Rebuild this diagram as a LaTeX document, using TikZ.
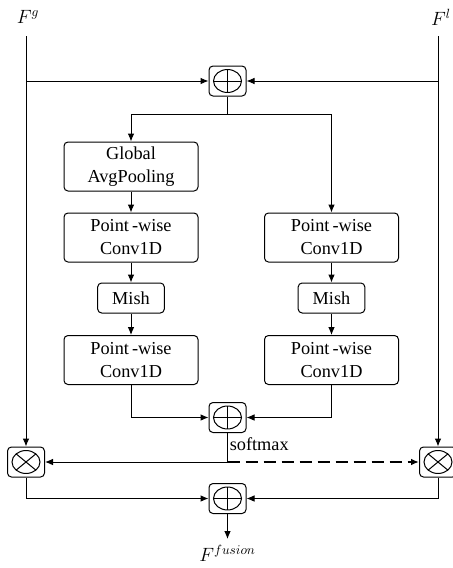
\documentclass[tikz,border=0pt]{standalone}
\usepackage{fontspec}
\setmainfont{Liberation Serif}
\usetikzlibrary{arrows.meta}
\begin{document}
\begin{tikzpicture}[x=0.75pt,y=-0.75pt,
  line width=0.75pt,
  font=\fontsize{13.7}{17.2}\selectfont,
  arr/.style={-{Latex[length=6pt,width=5pt]}},
  blk/.style={draw,rounded corners=3pt,minimum width=100.5pt,minimum height=36.75pt,align=center,inner sep=1pt},
  mishbox/.style={draw,rounded corners=3pt,minimum width=50pt,minimum height=22.5pt,inner sep=1pt},
  opbase/.style={draw,rounded corners=3pt,minimum width=27.75pt,minimum height=22.5pt,inner sep=0pt},
  opplus/.style={opbase,path picture={
    \draw (path picture bounding box.center) ellipse [x radius=10.5pt,y radius=8.6pt];
    \draw ([xshift=-10.5pt]path picture bounding box.center) -- ([xshift=10.5pt]path picture bounding box.center);
    \draw ([yshift=-8.6pt]path picture bounding box.center) -- ([yshift=8.6pt]path picture bounding box.center);}},
  optimes/.style={opbase,path picture={
    \draw (path picture bounding box.center) ellipse [x radius=10.5pt,y radius=8.6pt];
    \draw ([shift={(-7.4pt,-6.1pt)}]path picture bounding box.center) -- ([shift={(7.4pt,6.1pt)}]path picture bounding box.center);
    \draw ([shift={(-7.4pt,6.1pt)}]path picture bounding box.center) -- ([shift={(7.4pt,-6.1pt)}]path picture bounding box.center);}}
]
\useasboundingbox (0,0) rectangle (453,568);
% input labels
\node (fg) at (28,17) {$F^{g}$};
\node (fl) at (441,17) {$F^{l}$};
\coordinate (gt) at (26,36);
\coordinate (lt) at (438,36);
% operators
\node[opplus] (add1) at (227.5,81) {};
\node[opplus] (add2) at (227.5,417.5) {};
\node[opplus] (add3) at (227.5,498.5) {};
\node[optimes] (mulL) at (26,462) {};
\node[optimes] (mulR) at (438,462) {};
% blocks
\node[blk] (gap) at (131,166.5) {Global\\AvgPooling};
\node[blk] (pw1) at (131,237.5) {Point\,-wise\\Conv1D};
\node[mishbox] (mish1) at (131,298) {Mish};
\node[blk] (pw3) at (131,360) {Point\,-wise\\Conv1D};
\node[blk] (pw2) at (331.5,237.5) {Point\,-wise\\Conv1D};
\node[mishbox] (mish2) at (331.5,298) {Mish};
\node[blk] (pw4) at (331.5,360) {Point\,-wise\\Conv1D};
% connectors
\draw[arr] (gt) |- (add1);
\draw[arr] (lt) |- (add1);
\draw[arr] (gt) -- (mulL);
\draw[arr] (lt) -- (mulR);
\coordinate (split) at (227.5,114);
\draw (add1.south) -- (split);
\draw[arr] (split) -| (gap.north);
\draw[arr] (split) -| (pw2.north);
\draw[arr] (gap) -- (pw1);
\draw[arr] (pw1) -- (mish1);
\draw[arr] (mish1) -- (pw3);
\draw[arr] (pw2) -- (mish2);
\draw[arr] (mish2) -- (pw4);
\draw[arr] (pw3.south) |- (add2);
\draw[arr] (pw4.south) |- (add2);
\coordinate (sm) at (227.5,462);
\draw (add2.south) -- (sm);
\node[anchor=west,inner sep=1pt] (smlabel) at (228,444) {softmax};
\draw[arr] (sm) -- (mulL);
\draw[arr,line width=1.5pt,dash pattern=on 9pt off 4.5pt] (sm) -- (mulR);
\draw[arr] (mulL.south) |- (add3);
\draw[arr] (mulR.south) |- (add3);
\coordinate (out) at (227.5,539);
\draw[arr] (add3.south) -- (out);
\node (ff) at (227.5,553) {$F^{fusion}$};
\end{tikzpicture}
\end{document}
